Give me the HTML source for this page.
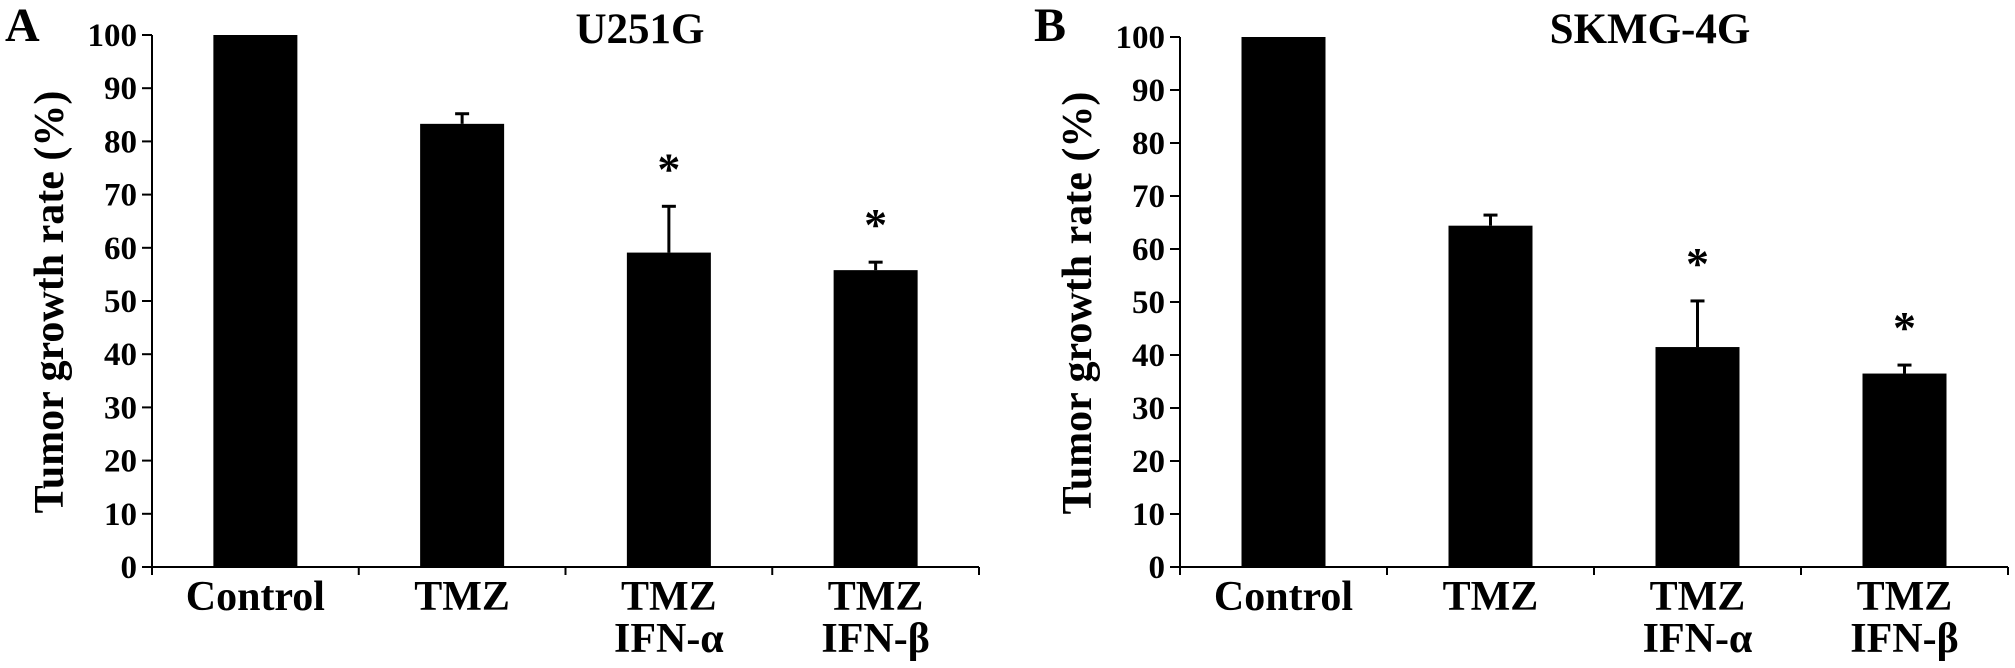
<!DOCTYPE html>
<html><head><meta charset="utf-8"><style>
html,body{margin:0;padding:0;background:#fff;}
svg{display:block;font-family:"Liberation Serif",serif;font-weight:bold;}
</style></head><body>
<svg id="fig" width="2015" height="668" viewBox="0 0 2015 668"></svg>
<script>
const categories = ["Control","TMZ","TMZ\nIFN-α","TMZ\nIFN-β"];
const valuesA = [100, 83.3, 59.1, 55.8];
const errorsA = [0, 1.9, 8.7, 1.5];
const sigA = [false, false, true, true];
const valuesB = [100, 64.4, 41.5, 36.5];
const errorsB = [0, 2.0, 8.7, 1.6];
const sigB = [false, false, true, true];
const yTicks = [0,10,20,30,40,50,60,70,80,90,100];

const NS = "http://www.w3.org/2000/svg";
const svg = document.getElementById('fig');
function mk(tag, attrs, parent){ const e=document.createElementNS(NS,tag); for(const k in attrs) e.setAttribute(k,attrs[k]); (parent||svg).appendChild(e); return e; }

function panel(cfg){
  const g = mk('g',{});
  
  
  const y = v => cfg.y0 - (v/100)*(cfg.y0-cfg.y100);
  const band = (cfg.xEnd-cfg.ax)/categories.length;
  const xc = i => cfg.ax + band*(i+0.5);
  const bw = 84;
  // panel letter
  const L = mk('text',{x:cfg.letterX,y:41,'font-size':48},g); L.textContent=cfg.letter;
   
  const T = mk('text',{x:cfg.titleX,y:43,'font-size':43,'text-anchor':'middle'},g); T.textContent=cfg.title;
   
  // y label
  const YL = mk('text',{x:0,y:0,'font-size':42,'text-anchor':'middle',transform:`translate(${cfg.ylabX},${(cfg.y0+cfg.y100)/2+1}) rotate(-90)`},g);
  YL.textContent='Tumor growth rate (%)';
   
  // bars
  cfg.values.forEach((v,i)=>{
    const r = mk('rect',{x:xc(i)-bw/2,y:y(v),width:bw,height:cfg.y0-y(v),fill:'#000'},g);
     
    if(cfg.errors[i]>0){
      const top=y(v+cfg.errors[i]);
      const l=mk('line',{x1:xc(i),x2:xc(i),y1:y(v),y2:top,stroke:'#000','stroke-width':3},g);
       
      const c=mk('line',{x1:xc(i)-7,x2:xc(i)+7,y1:top,y2:top,stroke:'#000','stroke-width':3},g);
       
    }
    if(cfg.sig[i]){
      const s=mk('text',{x:xc(i),y:y(v+cfg.errors[i])-cfg.starGap,'font-size':46,'text-anchor':'middle'},g);
      s.textContent='*';
       
    }
    const lines = categories[i].split('\n');
    lines.forEach((t,j)=>{
      const tx=mk('text',{x:xc(i),y:610+j*42,'font-size':42,'text-anchor':'middle'},g);
      tx.textContent=t;
       
    });
  });
  // axes
  const ya=mk('line',{x1:cfg.ax,x2:cfg.ax,y1:cfg.y100,y2:cfg.y0+8,stroke:'#000','stroke-width':2},g);
   
  const xa=mk('line',{x1:cfg.ax,x2:cfg.xEnd,y1:cfg.y0,y2:cfg.y0,stroke:'#000','stroke-width':2},g);
   
  for(let i=1;i<=categories.length;i++){
    const t=mk('line',{x1:cfg.ax+band*i,x2:cfg.ax+band*i,y1:cfg.y0,y2:cfg.y0+8,stroke:'#000','stroke-width':2},g);
     
  }
  yTicks.forEach(v=>{
    const t=mk('line',{x1:cfg.ax-10,x2:cfg.ax,y1:y(v),y2:y(v),stroke:'#000','stroke-width':2},g);
     
    const lb=mk('text',{x:cfg.ax-15,y:y(v)+11,'font-size':33,'text-anchor':'end'},g);
    lb.textContent=v;
     
  });
}
panel({name:'panel-a-u251g',letter:'A',letterX:5,title:'U251G',titleX:640,ax:152,y0:567,y100:35,xEnd:979,ylabX:63,values:valuesA,errors:errorsA,sig:sigA,starGap:22});
panel({name:'panel-b-skmg4g',letter:'B',letterX:1034,title:'SKMG-4G',titleX:1650,ax:1180,y0:567,y100:37,xEnd:2008,ylabX:1091,values:valuesB,errors:errorsB,sig:sigB,starGap:22});
</script>
</body></html>
